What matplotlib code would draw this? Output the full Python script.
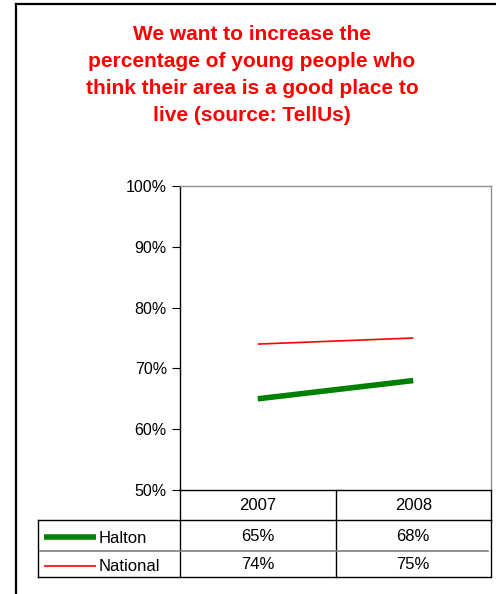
import matplotlib
matplotlib.use("Agg")
import matplotlib.pyplot as plt
from matplotlib.lines import Line2D

plt.rcParams['font.family'] = ['Liberation Sans', 'DejaVu Sans']

# ---- data ----
title = "We want to increase the\npercentage of young people who\nthink their area is a good place to\nlive (source: TellUs)"
years = ["2007", "2008"]
halton = [65, 68]
national = [74, 75]
series_names = ["Halton", "National"]
series_colors = ["#008000", "#FF0000"]
series_widths = [4.0, 1.2]
yticks = [50, 60, 70, 80, 90, 100]

W, H = 496, 594
fig = plt.figure(figsize=(W / 100, H / 100), dpi=100)

# overlay axes in pixel coordinates (y downward)
ov = fig.add_axes([0, 0, 1, 1], zorder=0)
ov.set_xlim(0, W)
ov.set_ylim(H, 0)
ov.axis('off')

# outer frame (left + top visible)
ov.add_line(Line2D([16, 16], [4, H + 5], color='black', lw=1.6))
ov.add_line(Line2D([16, W + 5], [4, 4], color='black', lw=1.6))

# title
ov.text(252, 75, title, ha='center', va='center', color='#FF0000',
        fontsize=15, fontweight='bold', linespacing=1.55)

# plot area
L, T, R, B = 180, 186, 491, 490
ax = fig.add_axes([L / W, 1 - B / H, (R - L) / W, (B - T) / H], zorder=1)
ax.patch.set_alpha(0)
x = list(range(len(years)))
data = [halton, national]
for vals, c, lw in zip(data, series_colors, series_widths):
    ax.plot(x, vals, color=c, lw=lw, solid_capstyle='butt')
ax.set_xlim(-0.5, len(years) - 0.5)
ax.set_ylim(50, 100)
ax.set_yticks(yticks)
ax.set_yticklabels([f"{v}%" for v in yticks], fontsize=11.5)
ax.set_xticks([])
ax.tick_params(axis='y', direction='out', length=5.5, width=0.8, pad=4, colors='black')
ax.spines['left'].set_color('black')
ax.spines['bottom'].set_color('black')
ax.spines['top'].set_color('#909090')
ax.spines['right'].set_color('#909090')
for s in ax.spines.values():
    s.set_linewidth(1.0)

# data table
colw = (R - L) / len(years)
hdr_b, row1_b, row2_b = 520, 550.5, 577
leg_l = 38
kw = dict(color='black', lw=1.0)
# vertical lines
ov.add_line(Line2D([L, L], [B, row2_b], **kw))
for i in range(1, len(years)):
    xx = L + colw * i
    ov.add_line(Line2D([xx, xx], [B, row2_b], **kw))
ov.add_line(Line2D([R, R], [B, row2_b], **kw))
ov.add_line(Line2D([leg_l, leg_l], [hdr_b, row2_b], **kw))
# horizontal lines
ov.add_line(Line2D([leg_l, R], [hdr_b, hdr_b], **kw))
ov.add_line(Line2D([leg_l, R], [row2_b, row2_b], **kw))
ov.add_line(Line2D([leg_l + 2, R - 3], [row1_b, row1_b], color='#808080', lw=1.2))

for i, yr in enumerate(years):
    ov.text(L + colw * (i + 0.5), (B + hdr_b) / 2 + 1, yr, ha='center', va='center', fontsize=12)

row_centers = [(hdr_b + row1_b) / 2 + 1, (row1_b + row2_b) / 2 + 1]
for name, vals, c, lw, yc in zip(series_names, data, series_colors, series_widths, row_centers):
    ov.add_line(Line2D([44, 96], [yc + 1, yc + 1], color=c, lw=lw, solid_capstyle='butt'))
    ov.text(99, yc + 2, name, ha='left', va='center', fontsize=12)
    for i, v in enumerate(vals):
        ov.text(L + colw * (i + 0.5), yc, f"{v}%", ha='center', va='center', fontsize=12)

fig.savefig("out.png", dpi=100)
